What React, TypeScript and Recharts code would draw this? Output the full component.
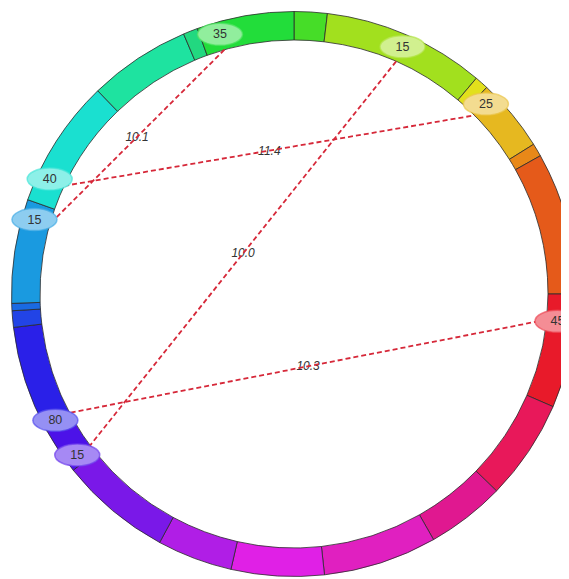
import React from 'react';
import { PieChart, Pie, Cell } from 'recharts';

// Ring segments, clockwise from 12 o'clock (angular span in degrees)
const segmentSpans = [6.8, 33.4, 2.8, 15, 2.7, 29.3, 23.5, 20.7, 16.2, 23.4, 19.1, 15.5, 23, 9.6, 22.2, 3.4, 1.5, 21.4, 26.5, 21, 3, 20];
const segmentColors = ['#46dd28', '#a2e01e', '#e2e01c', '#e6b820', '#e88818', '#e55a1a', '#e81a2a', '#e8185a', '#e01890', '#e020c0', '#e020e6', '#b01ee6', '#7a18e8', '#4c12e8', '#2a20e8', '#2244e6', '#1a6ae2', '#1a9ae0', '#1ae0d0', '#1ee3a0', '#22d880', '#22dd3a'];

// Markers on the ring (angle clockwise from 12 o'clock)
const markerLabels = ['35', '15', '25', '45', '80', '15', '40', '15'];
const markerAngles = [344.1, 23.7, 45.3, 95.8, 242.1, 233.4, 295.2, 286.0];

// Links between markers
const linkFrom = [0, 6, 1, 3];
const linkTo = [7, 2, 5, 4];
const linkLabels = ['10.1', '11.4', '10.0', '10.3'];

const WIDTH = 561;
const HEIGHT = 571;
const CX = 286;
const CY = 286;
const OUTER = 282.5;
const INNER = 254;
const MARKER_R = 270;
const RX = 22.5;
const RY = 11;
const FONT = '"Liberation Sans", Arial, sans-serif';

const ringData = segmentSpans.map((span, i) => ({ name: `seg${i}`, span }));
const markerData = markerLabels.map((label, i) => ({ label, angle: markerAngles[i], value: 1 }));
const linkData = linkLabels.map((label, i) => ({ label, from: linkFrom[i], to: linkTo[i], value: 1 }));

const toXY = (cx: number, cy: number, r: number, angle: number) => {
  const a = (angle * Math.PI) / 180;
  return { x: cx + r * Math.sin(a), y: cy - r * Math.cos(a) };
};

const mix = (hex: string, t: number) => {
  const n = parseInt(hex.slice(1), 16);
  const r = (n >> 16) & 255;
  const g = (n >> 8) & 255;
  const b = n & 255;
  const m = (c: number) => Math.round(c + (255 - c) * t);
  return `rgb(${m(r)},${m(g)},${m(b)})`;
};

const colorAt = (angle: number) => {
  let acc = 0;
  for (let i = 0; i < segmentSpans.length; i++) {
    acc += segmentSpans[i];
    if (angle < acc) return segmentColors[i];
  }
  return segmentColors[segmentColors.length - 1];
};

const renderMarker = (props: any) => {
  const cx = typeof props.cx === 'number' ? props.cx : CX;
  const cy = typeof props.cy === 'number' ? props.cy : CY;
  const m = markerData[props.index];
  const p = toXY(cx, cy, MARKER_R, m.angle);
  // keep the label text inside the drawing area
  const x = Math.min(p.x, WIDTH - 11.5);
  const c = colorAt(m.angle);
  return (
    <g key={`m${props.index}`}>
      <ellipse cx={x} cy={p.y} rx={RX} ry={RY} fill={mix(c, 0.5)} stroke={mix(c, 0.2)} strokeOpacity={0.7} strokeWidth={1.5} />
      <text x={x} y={p.y} textAnchor="middle" dominantBaseline="central" fontSize={12.5} fill="#333" style={{ fontFamily: FONT }}>
        {m.label}
      </text>
    </g>
  );
};

const renderLink = (props: any) => {
  const cx = typeof props.cx === 'number' ? props.cx : CX;
  const cy = typeof props.cy === 'number' ? props.cy : CY;
  const l = linkData[props.index];
  const a = toXY(cx, cy, INNER, markerAngles[l.from]);
  const b = toXY(cx, cy, INNER, markerAngles[l.to]);
  const mx = (a.x + b.x) / 2;
  const my = (a.y + b.y) / 2;
  return (
    <g key={`l${props.index}`}>
      <text x={mx} y={my} textAnchor="middle" dominantBaseline="central" fontSize={12} fontStyle="italic" fill="#333" style={{ fontFamily: FONT }}>
        {l.label}
      </text>
      <line x1={a.x} y1={a.y} x2={b.x} y2={b.y} stroke="#d62839" strokeWidth={1.8} strokeDasharray="5 3" />
    </g>
  );
};

export default function App() {
  return (
    <PieChart width={WIDTH} height={HEIGHT} margin={{ top: 0, right: 0, bottom: 0, left: 0 }}>
      <Pie
        data={ringData}
        dataKey="span"
        cx={CX}
        cy={CY}
        innerRadius={INNER}
        outerRadius={OUTER}
        startAngle={90}
        endAngle={-270}
        stroke="#2b2b2b"
        strokeWidth={0.8}
        isAnimationActive={false}
      >
        {ringData.map((d, i) => (
          <Cell key={d.name} fill={segmentColors[i]} />
        ))}
      </Pie>
      <Pie
        data={linkData}
        dataKey="value"
        cx={CX}
        cy={CY}
        innerRadius={0}
        outerRadius={1}
        fill="none"
        stroke="none"
        label={renderLink}
        labelLine={false}
        isAnimationActive={false}
      />
      <Pie
        data={markerData}
        dataKey="value"
        cx={CX}
        cy={CY}
        innerRadius={0}
        outerRadius={1}
        fill="none"
        stroke="none"
        label={renderMarker}
        labelLine={false}
        isAnimationActive={false}
      />
    </PieChart>
  );
}
